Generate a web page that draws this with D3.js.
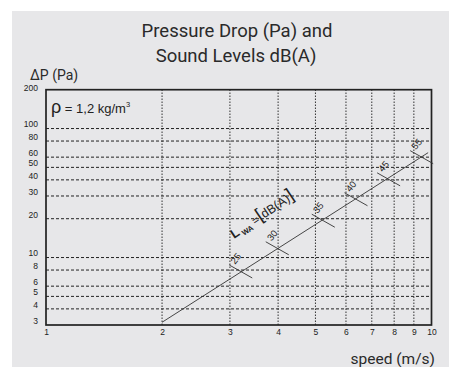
<!DOCTYPE html>
<html>
<head>
<meta charset="utf-8">
<script src="https://cdn.jsdelivr.net/npm/d3@7"></script>
<style>
  html, body { margin: 0; padding: 0; background: #ffffff; }
  svg { display: block; }
</style>
</head>
<body>
<svg id="chart" width="449" height="367"></svg>
<script>
// ---- data ----
const speedTicks = [1, 2, 3, 4, 5, 6, 7, 8, 9, 10];
const speedGrid = [2, 3, 4, 5, 6, 7, 8, 9];
const dpTicks = [3, 4, 5, 6, 8, 10, 20, 30, 40, 50, 60, 80, 100, 200];
const dpGrid = [4, 5, 6, 8, 10, 20, 30, 40, 50, 60, 80, 100];
const lineSpeed = [2, 9.8];
const lineDp = [3.15, 65];
const markSpeed = [3.2, 3.98, 5.24, 6.37, 7.74, 9.43];
const markDp = [7.8, 11.8, 19.3, 28.3, 40.4, 60];
const markDb = ["25", "30", "35", "40", "45", "55"];

const svg = d3.select("#chart");
const fontSans = "'Liberation Sans', Arial, sans-serif";
const fontTitle = "Roboto, 'Open Sans', sans-serif";

// background panel
svg.append("rect").attr("x", 12).attr("y", 11).attr("width", 437).attr("height", 356)
  .attr("fill", "#e7e7e9");

const x = d3.scaleLog().domain([1, 10]).range([46, 431.5]);
const y = d3.scaleLog().domain([3, 200]).range([325, 89.7]);

// gridlines
svg.append("g").selectAll("line").data(dpGrid).join("line")
  .attr("x1", x(1)).attr("x2", x(10))
  .attr("y1", d => y(d)).attr("y2", d => y(d))
  .attr("stroke", "#222").attr("stroke-width", 1).attr("stroke-dasharray", "3,2");
svg.append("g").selectAll("line").data(speedGrid).join("line")
  .attr("x1", d => x(d)).attr("x2", d => x(d))
  .attr("y1", y(3)).attr("y2", y(200))
  .attr("stroke", "#333").attr("stroke-width", 1).attr("stroke-dasharray", "1.5,1.5");

// frame
svg.append("rect").attr("x", x(1)).attr("y", y(200))
  .attr("width", x(10) - x(1)).attr("height", y(3) - y(200))
  .attr("fill", "none").attr("stroke", "#222").attr("stroke-width", 1.7);

// axes
const yAxis = svg.append("g").attr("transform", `translate(${x(1)},0)`)
  .call(d3.axisLeft(y).tickValues(dpTicks).tickFormat(d3.format("d")).tickSize(0).tickPadding(8));
yAxis.select(".domain").remove();
yAxis.selectAll("text").attr("font-family", fontSans).attr("font-size", 8.5)
  .attr("fill", "#222").attr("dy", d => d === 200 ? "0.15em" : "-0.2em");

const xAxis = svg.append("g").attr("transform", `translate(0,${y(3)})`)
  .call(d3.axisBottom(x).tickValues(speedTicks).tickFormat(d3.format("d")).tickSize(0).tickPadding(3.5));
xAxis.select(".domain").remove();
xAxis.selectAll("text").attr("font-family", fontSans).attr("font-size", 8.5).attr("fill", "#222");

// main line
const lineData = lineSpeed.map((s, i) => [s, lineDp[i]]);
svg.append("path").datum(lineData)
  .attr("d", d3.line().x(d => x(d[0])).y(d => y(d[1])))
  .attr("fill", "none").attr("stroke", "#333").attr("stroke-width", 0.9);

// markers
const marks = markSpeed.map((s, i) => ({ s, p: markDp[i], db: markDb[i] }));
const mg = svg.append("g").selectAll("g").data(marks).join("g")
  .attr("transform", d => `translate(${x(d.s)},${y(d.p)})`);
mg.append("line").attr("x1", -11.5).attr("y1", -6.5).attr("x2", 11.5).attr("y2", 6.5)
  .attr("stroke", "#333").attr("stroke-width", 0.9);
mg.append("text").attr("transform", "translate(-5,-13) rotate(-50)")
  .attr("text-anchor", "middle").attr("dy", "0.35em")
  .attr("font-family", fontSans).attr("font-size", 9.5).attr("fill", "#222")
  .text(d => d.db);

// L_WA label
const lw = svg.append("text")
  .attr("transform", "translate(234,239) rotate(-34)")
  .attr("font-family", fontSans).attr("fill", "#222");
lw.append("tspan").attr("font-size", 13).attr("font-weight", "bold").text("L");
lw.append("tspan").attr("font-size", 7.5).attr("font-weight", "bold").attr("dy", 3).text(" WA");
lw.append("tspan").attr("font-size", 11).attr("dy", -3).text(" =");
lw.append("tspan").attr("font-size", 18).text("[");
lw.append("tspan").attr("font-size", 12.5).text("dB(A)");
lw.append("tspan").attr("font-size", 18).text("]");

// density label
const rho = svg.append("text").attr("x", 51).attr("y", 113)
  .attr("font-family", fontSans).attr("fill", "#222");
rho.append("tspan").attr("font-size", 18).text("ρ");
rho.append("tspan").attr("font-size", 13).text(" = 1,2 kg/m");
rho.append("tspan").attr("font-size", 7.5).attr("dy", -6).text("3");

// titles
svg.append("text").attr("x", 237).attr("y", 37).attr("text-anchor", "middle")
  .attr("font-family", fontTitle).attr("font-size", 18.5).attr("fill", "#2a2a2a")
  .text("Pressure Drop (Pa) and");
svg.append("text").attr("x", 236).attr("y", 62).attr("text-anchor", "middle")
  .attr("font-family", fontTitle).attr("font-size", 18.5).attr("fill", "#2a2a2a")
  .text("Sound Levels dB(A)");

svg.append("text").attr("x", 30).attr("y", 80)
  .attr("font-family", fontTitle).attr("font-size", 14).attr("fill", "#2a2a2a")
  .text("ΔP (Pa)");

svg.append("text").attr("x", 435).attr("y", 364).attr("text-anchor", "end")
  .attr("font-family", fontTitle).attr("font-size", 15.5).attr("fill", "#2a2a2a")
  .text("speed (m/s)");
</script>
</body>
</html>
